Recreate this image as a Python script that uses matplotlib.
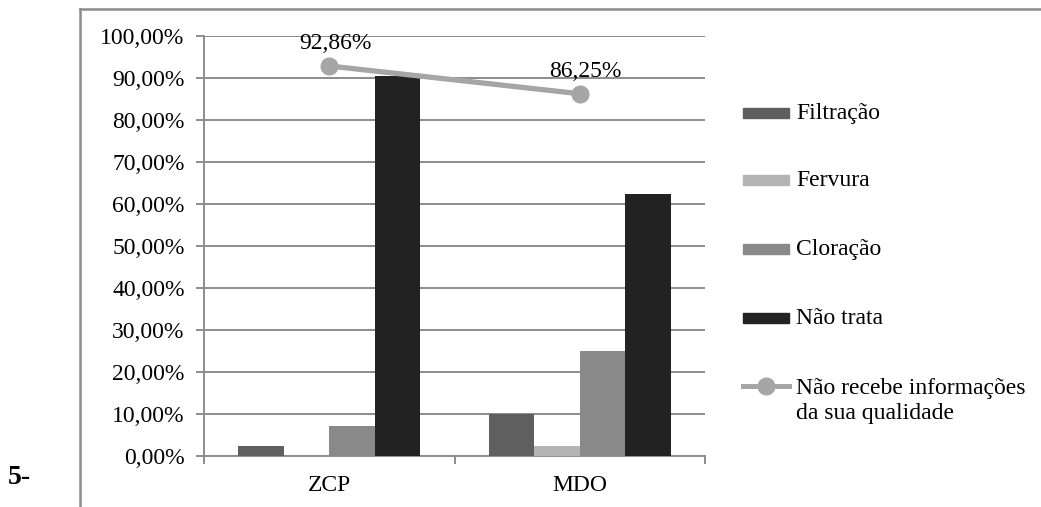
import numpy as np
import matplotlib.pyplot as plt
from matplotlib.lines import Line2D
from matplotlib.patches import Rectangle
from matplotlib.ticker import FuncFormatter, FixedLocator

plt.rcParams['font.family'] = ['Liberation Serif', 'DejaVu Serif']

categories = ['ZCP', 'MDO']
series_names = ['Filtração', 'Fervura', 'Cloração', 'Não trata']
filtracao = [2.38, 10.00]
fervura = [0.00, 2.50]
cloracao = [7.14, 25.00]
nao_trata = [90.48, 62.50]
nao_recebe = [92.86, 86.25]
line_name = 'Não recebe informações\nda sua qualidade'

bar_colors = ['#5f5f5f', '#b4b4b4', '#898989', '#222222']
line_color = '#a6a6a6'
grid_color = '#8c8c8c'

fig = plt.figure(figsize=(10.41, 5.07), dpi=100)
ax = fig.add_axes([204 / 1041, 51 / 507, 501 / 1041, 420 / 507])

x = np.arange(len(categories))
width = 0.1816
for i, (vals, col) in enumerate(zip([filtracao, fervura, cloracao, nao_trata], bar_colors)):
    ax.bar(x + (i - 1.5) * width, vals, width, color=col, zorder=3)

ax.plot(x, nao_recebe, color=line_color, lw=3.8, marker='o', ms=12, zorder=4)
for xi, v in zip(x, nao_recebe):
    ax.annotate(f'{v:.2f}%'.replace('.', ','), (xi, v), xytext=(6, 12),
                textcoords='offset pixels', ha='center', va='bottom', fontsize=17)

ax.set_xlim(-0.5, 1.5)
ax.set_ylim(0, 100)
ax.set_yticks(np.arange(0, 101, 10))
ax.yaxis.set_major_formatter(FuncFormatter(lambda v, p: f'{v:.2f}%'.replace('.', ',')))
ax.set_xticks(x)
ax.set_xticklabels(categories)
ax.xaxis.set_minor_locator(FixedLocator([-0.5, 0.5, 1.5]))
ax.tick_params(axis='x', which='major', length=0, pad=14, labelsize=17)
ax.tick_params(axis='x', which='minor', length=6, width=1.4, color=grid_color)
ax.tick_params(axis='y', length=6, width=1.4, color=grid_color, pad=8, labelsize=17)

ax.grid(axis='y', color=grid_color, lw=1.4, zorder=0)
for s in ['top', 'right']:
    ax.spines[s].set_visible(False)
for s in ['left', 'bottom']:
    ax.spines[s].set_color(grid_color)
    ax.spines[s].set_linewidth(1.4)

# legend drawn by hand to keep the two-line label aligned like the original
def fx(px):
    return px / 1041

def fy(py):
    return 1 - py / 507

legend_y = [113, 180, 249, 318]
for name, col, yy in zip(series_names, bar_colors, legend_y):
    fig.add_artist(Rectangle((fx(743), fy(yy + 5)), 46 / 1041, 10 / 507,
                             color=col, transform=fig.transFigure))
    fig.text(fx(796), fy(yy), name, fontsize=17, va='center', ha='left')
fig.add_artist(Line2D([fx(743), fx(789)], [fy(386), fy(386)], color=line_color, lw=3.6,
                      transform=fig.transFigure))
fig.add_artist(Line2D([fx(766)], [fy(386)], color=line_color, marker='o', ms=12,
                      transform=fig.transFigure))
fig.text(fx(796), fy(401), line_name, fontsize=17, va='center', ha='left', linespacing=1.25)

# outer frame (top and left edges)
fig.add_artist(Line2D([fx(80), 1], [fy(9), fy(9)], color=grid_color, lw=1.8,
                      transform=fig.transFigure))
fig.add_artist(Line2D([fx(80), fx(80)], [fy(9), 0], color=grid_color, lw=1.8,
                      transform=fig.transFigure))

fig.text(fx(8), fy(478), '5-', fontsize=20, fontweight='bold', va='center', ha='left')

fig.savefig('out.png', dpi=100)
